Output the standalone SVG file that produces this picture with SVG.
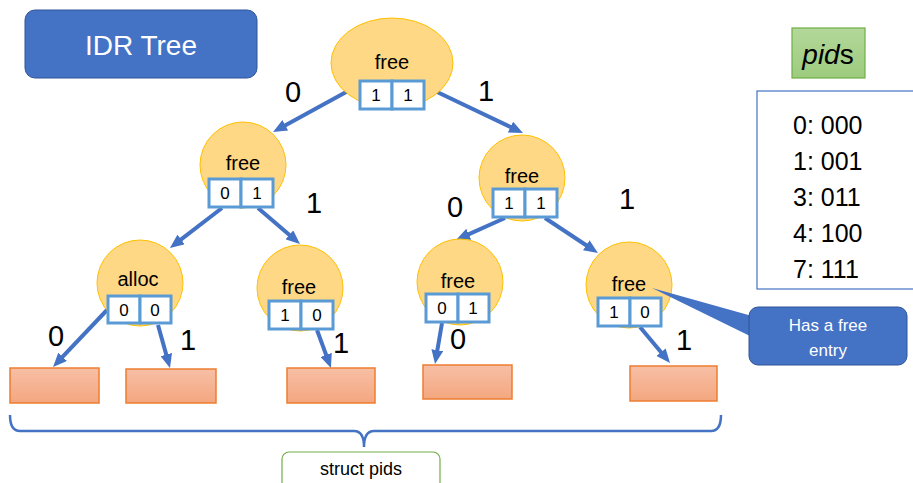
<svg xmlns="http://www.w3.org/2000/svg" width="913" height="483" viewBox="0 0 913 483">
<defs>
<linearGradient id="leafG" x1="0" y1="0" x2="0" y2="1"><stop offset="0" stop-color="#F7BFA6"/><stop offset="1" stop-color="#F4A77F"/></linearGradient>
<linearGradient id="greenG" x1="0" y1="0" x2="0" y2="1"><stop offset="0" stop-color="#B3D89A"/><stop offset="1" stop-color="#9DCB7E"/></linearGradient>
<marker id="ah" viewBox="0 0 14 12" markerUnits="userSpaceOnUse" markerWidth="14" markerHeight="12" refX="4" refY="6" orient="auto"><path d="M0,0 L14,6 L0,12 z" fill="#4472C4"/></marker>
</defs>
<style>
text{font-family:"Liberation Sans","Noto Sans",sans-serif;fill:#000}
.circ{fill:#FED885;stroke:#FFC000;stroke-width:1}
.cell{fill:#fff;stroke:#5B9BD5;stroke-width:3}
.lbl{font-size:20px;text-anchor:middle}
.dig{font-size:17px;text-anchor:middle}
.edge{font-size:29px;text-anchor:middle}
.leaf{fill:url(#leafG);stroke:#ED7D31;stroke-width:1.5}
.conn line{stroke:#4472C4;stroke-width:4;marker-end:url(#ah)}
.pid{font-size:25px}
</style>

<g id="title">
<rect x="25" y="10" width="232" height="68" rx="10" fill="#4472C4" stroke="#2F5597" stroke-width="1"/>
<text x="141" y="55" style="font-size:28px;fill:#fff;text-anchor:middle">IDR Tree</text>
</g>

<g id="connectors" class="conn">
<line x1="348" y1="91" x2="281.8" y2="127.2"/>
<line x1="435" y1="91" x2="514" y2="128.7"/>
<line x1="222" y1="208" x2="177.9" y2="241.9"/>
<line x1="258" y1="208" x2="292.4" y2="237.5"/>
<line x1="505" y1="218" x2="465.1" y2="235.9"/>
<line x1="545" y1="218" x2="589.6" y2="247.5"/>
<line x1="107" y1="310" x2="59.9" y2="359.7"/>
<line x1="158" y1="325" x2="167.3" y2="358.4"/>
<line x1="317" y1="330" x2="327.5" y2="358.6"/>
<line x1="442" y1="323" x2="436.7" y2="354.1"/>
<line x1="640" y1="327" x2="663.6" y2="355.3"/>
</g>

<g id="edge-labels">
<text class="edge" x="293" y="102">0</text>
<text class="edge" x="486" y="101">1</text>
<text class="edge" x="314" y="213">1</text>
<text class="edge" x="455" y="217">0</text>
<text class="edge" x="627" y="209">1</text>
<text class="edge" x="56" y="346">0</text>
<text class="edge" x="188" y="350">1</text>
<text class="edge" x="341" y="353">1</text>
<text class="edge" x="458" y="349">0</text>
<text class="edge" x="684" y="350">1</text>
</g>

<g id="root">
<ellipse class="circ" cx="392" cy="63" rx="61" ry="45"/>
<text class="lbl" x="392" y="69">free</text>
<rect class="cell" x="360" y="81" width="32" height="28"/>
<rect class="cell" x="392" y="81" width="32" height="28"/>
<text class="dig" x="376" y="101">1</text>
<text class="dig" x="408" y="101">1</text>
</g>

<g id="n0">
<circle class="circ" cx="243" cy="165" r="43"/>
<text class="lbl" x="243" y="170">free</text>
<rect class="cell" x="209" y="179" width="32" height="28"/>
<rect class="cell" x="241" y="179" width="32" height="28"/>
<text class="dig" x="225" y="199">0</text>
<text class="dig" x="257" y="199">1</text>
</g>

<g id="n1">
<circle class="circ" cx="522" cy="178" r="43"/>
<text class="lbl" x="522" y="183">free</text>
<rect class="cell" x="493" y="189" width="32" height="28"/>
<rect class="cell" x="525" y="189" width="32" height="28"/>
<text class="dig" x="509" y="209">1</text>
<text class="dig" x="541" y="209">1</text>
</g>

<g id="n00">
<circle class="circ" cx="140" cy="283" r="43"/>
<text class="lbl" x="138" y="286">alloc</text>
<rect class="cell" x="108" y="296" width="32" height="27"/>
<rect class="cell" x="140" y="296" width="31" height="27"/>
<text class="dig" x="124" y="316">0</text>
<text class="dig" x="155" y="316">0</text>
</g>

<g id="n01">
<circle class="circ" cx="300" cy="288" r="43"/>
<text class="lbl" x="299" y="294">free</text>
<rect class="cell" x="269" y="301" width="32" height="28"/>
<rect class="cell" x="301" y="301" width="32" height="28"/>
<text class="dig" x="285" y="321">1</text>
<text class="dig" x="317" y="321">0</text>
</g>

<g id="n10">
<circle class="circ" cx="460" cy="282" r="43"/>
<text class="lbl" x="458" y="288">free</text>
<rect class="cell" x="426" y="294" width="32" height="28"/>
<rect class="cell" x="458" y="294" width="31" height="28"/>
<text class="dig" x="442" y="314">0</text>
<text class="dig" x="473" y="314">1</text>
</g>

<g id="n11">
<circle class="circ" cx="629" cy="285" r="43"/>
<text class="lbl" x="629" y="291">free</text>
<rect class="cell" x="598" y="298" width="32" height="28"/>
<rect class="cell" x="630" y="298" width="31" height="28"/>
<text class="dig" x="614" y="318">1</text>
<text class="dig" x="645" y="318">0</text>
</g>

<g id="leaves">
<rect class="leaf" x="10" y="368" width="89" height="35"/>
<rect class="leaf" x="126" y="369" width="90" height="34"/>
<rect class="leaf" x="287" y="368" width="88" height="35"/>
<rect class="leaf" x="423" y="365" width="89" height="34"/>
<rect class="leaf" x="630" y="366" width="87" height="35"/>
</g>

<g id="brace">
<path d="M10,415 Q10,431 20,431 L354,431 Q364,431 364,447 Q364,431 374,431 L711,431 Q721,431 721,415" fill="none" stroke="#4472C4" stroke-width="2.5"/>
</g>

<g id="struct-pids">
<rect x="282" y="452" width="158" height="40" rx="7" fill="#fff" stroke="#70AD47" stroke-width="1.2"/>
<text x="361" y="475" style="font-size:18px;text-anchor:middle">struct pids</text>
</g>

<g id="callout">
<polygon points="652,288 752,316 752,337" fill="#4472C4"/>
<rect x="749" y="307" width="158" height="58" rx="9" fill="#4472C4" stroke="#2F5597" stroke-width="1"/>
<text x="828" y="331" style="font-size:17px;fill:#fff;text-anchor:middle">Has a free</text>
<text x="828" y="356" style="font-size:17px;fill:#fff;text-anchor:middle">entry</text>
</g>

<g id="pids-title">
<rect x="792" y="28" width="73" height="50" fill="url(#greenG)" stroke="#70AD47" stroke-width="1.2"/>
<text x="828" y="64" style="font-size:28px;text-anchor:middle"><tspan font-style="italic">pid</tspan>s</text>
</g>

<g id="pids-table">
<rect x="757" y="91" width="160" height="198" fill="#fff" stroke="#4472C4" stroke-width="1.2"/>
<text class="pid" x="793" y="134">0: 000</text>
<text class="pid" x="793" y="170">1: 001</text>
<text class="pid" x="793" y="206">3: 011</text>
<text class="pid" x="793" y="242">4: 100</text>
<text class="pid" x="793" y="278">7: 111</text>
</g>
</svg>
